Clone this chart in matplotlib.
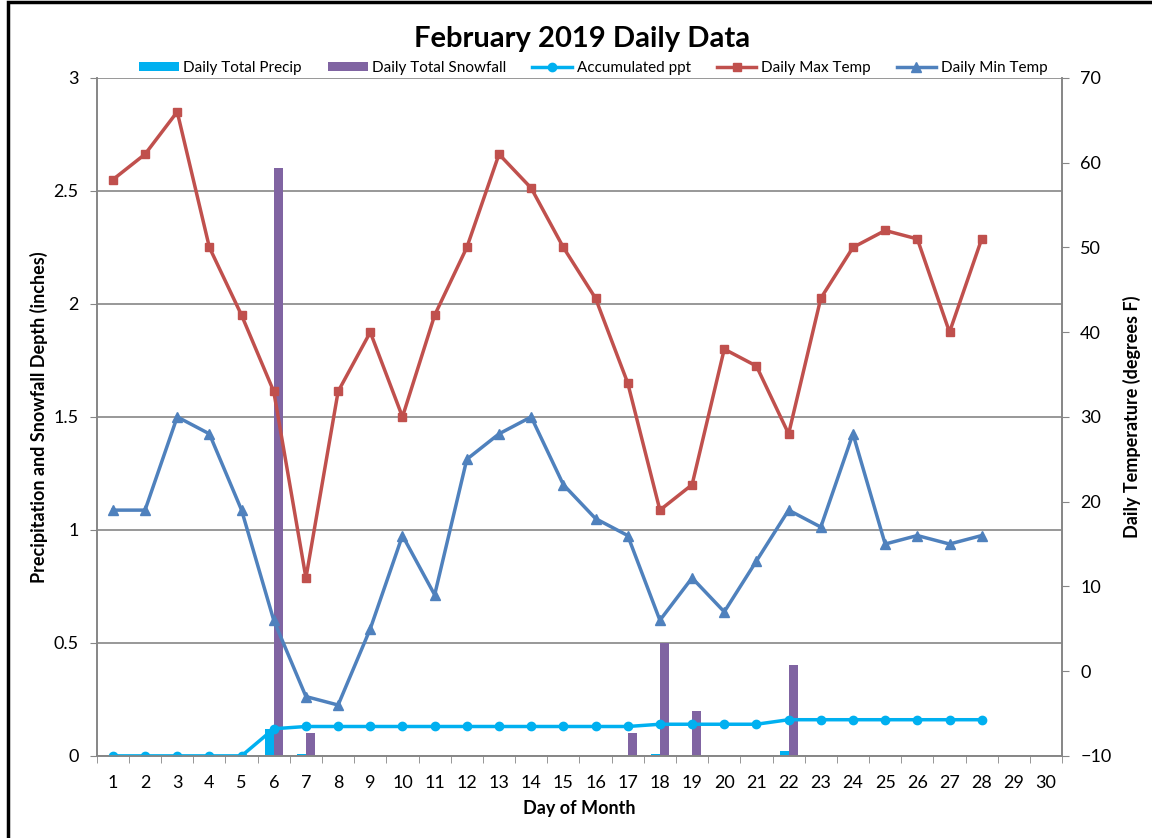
import matplotlib.pyplot as plt
import numpy as np
from matplotlib.patches import Rectangle

days = list(range(1, 31))
data_days = list(range(1, 29))

precip = [0, 0, 0, 0, 0, 0.12, 0.01, 0, 0, 0, 0, 0, 0, 0, 0, 0, 0, 0.01,
          0, 0, 0, 0.02, 0, 0, 0, 0, 0, 0]
snowfall = [0, 0, 0, 0, 0, 2.6, 0.1, 0, 0, 0, 0, 0, 0, 0, 0, 0, 0.1, 0.5,
            0.2, 0, 0, 0.4, 0, 0, 0, 0, 0, 0]
accum_ppt = [0, 0, 0, 0, 0, 0.12, 0.13, 0.13, 0.13, 0.13, 0.13, 0.13, 0.13,
             0.13, 0.13, 0.13, 0.13, 0.14, 0.14, 0.14, 0.14, 0.16, 0.16, 0.16,
             0.16, 0.16, 0.16, 0.16]
max_temp = [58, 61, 66, 50, 42, 33, 11, 33, 40, 30, 42, 50, 61, 57, 50, 44,
            34, 19, 22, 38, 36, 28, 44, 50, 52, 51, 40, 51]
min_temp = [19, 19, 30, 28, 19, 6, -3, -4, 5, 16, 9, 25, 28, 30, 22, 18,
            16, 6, 11, 7, 13, 19, 17, 28, 15, 16, 15, 16]

plt.rcParams['font.family'] = ['Lato', 'DejaVu Sans']

fig = plt.figure(figsize=(11.52, 8.38), dpi=100)
fig.patches.append(Rectangle((0.007, -0.01), 1.2, 1.008, transform=fig.transFigure,
                             fill=False, edgecolor='black', linewidth=2.5))

ax = fig.add_axes([0.084, 0.098, 0.838, 0.809])
ax2 = ax.twinx()

x = np.array(data_days)
w = 0.28
bp = ax.bar(x - w / 2, precip, width=w, color='#00B0F0', label='Daily Total Precip', zorder=2)
bs = ax.bar(x + w / 2, snowfall, width=w, color='#8064A2', label='Daily Total Snowfall', zorder=2)
la, = ax.plot(x, accum_ppt, color='#00B0F0', marker='o', markersize=6, linewidth=2.5,
              label='Accumulated ppt', zorder=3)

lmax, = ax2.plot(x, max_temp, color='#C0504D', marker='s', markersize=6, linewidth=2.5,
                 label='Daily Max Temp')
lmin, = ax2.plot(x, min_temp, color='#4F81BD', marker='^', markersize=7, linewidth=2.5,
                 label='Daily Min Temp')

ax.set_xlim(0.5, 30.5)
ax.set_ylim(0, 3)
ax2.set_ylim(-10, 70)
ax.set_yticks(np.arange(0, 3.01, 0.5))
ax.set_yticklabels(['0', '0.5', '1', '1.5', '2', '2.5', '3'])
ax2.set_yticks(range(-10, 71, 10))
ax.set_xticks(days)
ax.set_xticks(np.arange(0.5, 31, 1), minor=True)
ax.tick_params(axis='x', which='major', length=0, labelsize=13, pad=14)
ax.tick_params(axis='x', which='minor', length=5, color='#868686')
ax.tick_params(axis='y', labelsize=13, length=5, color='#868686', pad=8)
ax2.tick_params(axis='y', labelsize=13, length=5, color='#868686', pad=8)

ax.grid(axis='y', color='#868686', linewidth=1.2, zorder=0)
ax.set_axisbelow(True)
for a in (ax, ax2):
    for s in a.spines.values():
        s.set_color('#868686')
        s.set_linewidth(1.2)
ax.spines['top'].set_visible(False)
ax2.spines['top'].set_visible(False)

ax.set_xlabel('Day of Month', fontsize=13, fontweight='bold', labelpad=6)
ax.set_ylabel('Precipitation and Snowfall Depth (inches)', fontsize=13, fontweight='bold')
ax2.set_ylabel('Daily Temperature (degrees F)', fontsize=13, fontweight='bold', labelpad=8)
fig.text(0.505, 0.953, 'February 2019 Daily Data', ha='center', va='center',
         fontsize=21, fontweight='bold')

fig.legend([bp, bs, la, lmax, lmin],
           ['Daily Total Precip', 'Daily Total Snowfall', 'Accumulated ppt',
            'Daily Max Temp', 'Daily Min Temp'],
           loc='center', bbox_to_anchor=(0.515, 0.919), ncol=5,
           frameon=False, fontsize=11, handlelength=2.6, columnspacing=1.7,
           handletextpad=0.3, handleheight=0.6)

fig.savefig('out.png', dpi=100)
